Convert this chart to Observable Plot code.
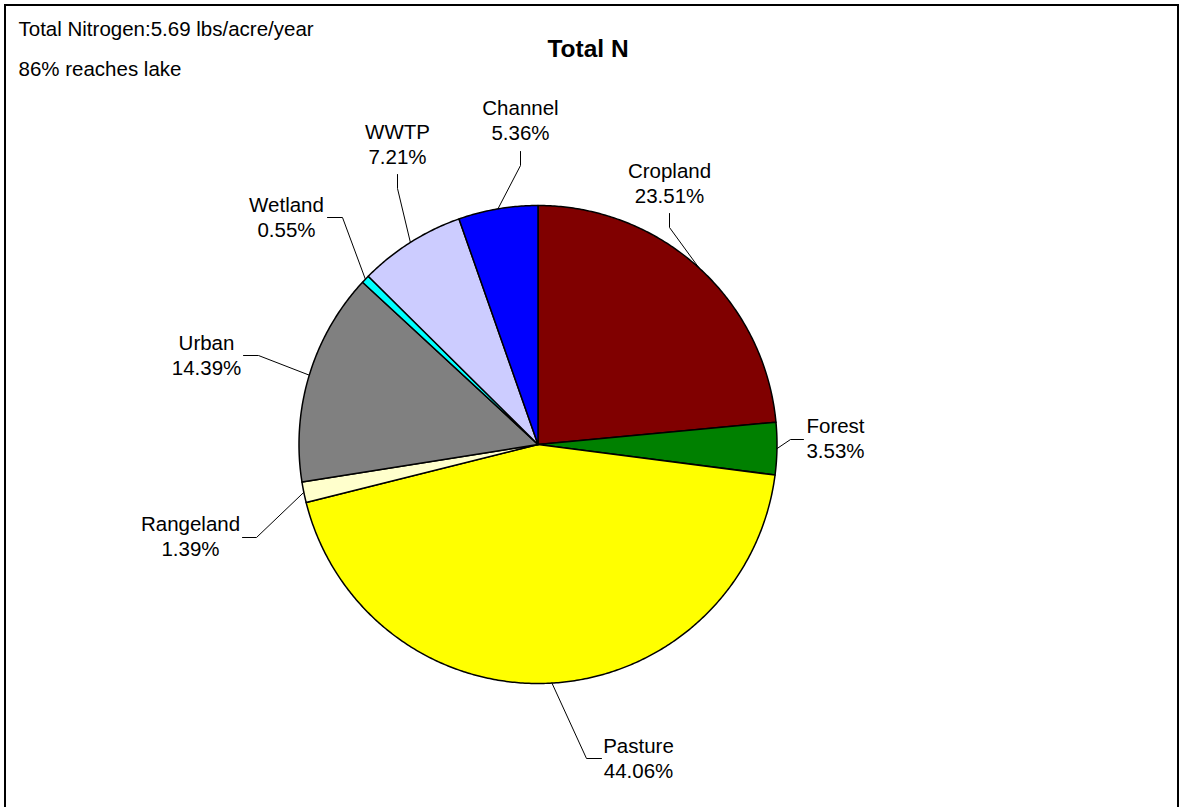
<!DOCTYPE html>
<html>
<head>
<meta charset="utf-8">
<script src="https://cdn.jsdelivr.net/npm/d3@7"></script>
<script src="https://cdn.jsdelivr.net/npm/@observablehq/plot@0.6"></script>
<style>
  html, body { margin: 0; padding: 0; background: #fff; overflow: hidden; }
  #wrap { position: relative; width: 1183px; height: 807px; font-family: "Liberation Sans", Arial, sans-serif; }
  #frame { position: absolute; left: 4px; top: 4px; width: 1171px; height: 830px; border: 2px solid #000; pointer-events: none; }
  #chart { position: absolute; left: 0; top: 0; }
</style>
</head>
<body>
<div id="wrap">
  <div id="chart"></div>
  <div id="frame"></div>
</div>
<script>
// ---- data ----
const categories = ["Cropland", "Forest", "Pasture", "Rangeland", "Urban", "Wetland", "WWTP", "Channel"];
const shares = [23.51, 3.53, 44.06, 1.39, 14.39, 0.55, 7.21, 5.36];
const sliceColors = ["#800000", "#008000", "#ffff00", "#ffffcc", "#808080", "#00ffff", "#ccccff", "#0000ff"];
const chartTitle = "Total N";
const notes = ["Total Nitrogen:5.69 lbs/acre/year", "86% reaches lake"];

// ---- layout (pixels) ----
const W = 1183, H = 807;
const CX = 537.5, CY = 444, R = 239;
// label centre x, baseline of last line, leader start, leader elbow
const labelLayout = [
  {lx: 669, lb: 202, sx: 669, sy: 213, ex: 669, ey: 227},
  {lx: 835, lb: 457, sx: 803, sy: 439, ex: 790, ey: 439},
  {lx: 638, lb: 777, sx: 601, sy: 758, ex: 586, ey: 758},
  {lx: 190, lb: 555, sx: 242, sy: 537, ex: 256, ey: 537},
  {lx: 206, lb: 374, sx: 243, sy: 355, ex: 258, ey: 355},
  {lx: 286, lb: 236, sx: 327, sy: 217, ex: 342, ey: 217},
  {lx: 397, lb: 163, sx: 397, sy: 174, ex: 397, ey: 188},
  {lx: 520, lb: 139, sx: 520, sy: 151, ex: 520, ey: 165}
];
const px = v => (v - CX) / R;
const py = v => (CY - v) / R;

// ---- slices ----
const arcs = d3.pie().sort(null).value(d => d)(shares);
const slicePts = [];
arcs.forEach((a, i) => {
  const name = categories[i];
  slicePts.push({name, x: 0, y: 0});
  const n = Math.max(2, Math.ceil((a.endAngle - a.startAngle) / (Math.PI / 360)));
  for (let k = 0; k <= n; k++) {
    const t = a.startAngle + (a.endAngle - a.startAngle) * k / n;
    slicePts.push({name, x: Math.sin(t), y: Math.cos(t)});
  }
  slicePts.push({name, x: 0, y: 0});
});

// ---- labels and leaders ----
const labels = arcs.map((a, i) => ({
  name: categories[i],
  text: categories[i] + "\n" + shares[i].toFixed(2) + "%",
  x: px(labelLayout[i].lx),
  y: py(labelLayout[i].lb)
}));
const leaders = [];
arcs.forEach((a, i) => {
  const L = labelLayout[i];
  const m = (a.startAngle + a.endAngle) / 2;
  leaders.push({name: categories[i], x: px(L.sx), y: py(L.sy)});
  leaders.push({name: categories[i], x: px(L.ex), y: py(L.ey)});
  leaders.push({name: categories[i], x: Math.sin(m), y: Math.cos(m)});
});

const font = "'Liberation Sans', Arial, sans-serif";

const chart = Plot.plot({
  width: W,
  height: H,
  margin: 0,
  style: {fontFamily: font, background: "transparent", overflow: "visible"},
  x: {domain: [px(0), px(W)], axis: null},
  y: {domain: [py(H), py(0)], axis: null},
  color: {domain: categories, range: sliceColors, legend: false},
  marks: [
    Plot.line(slicePts, {x: "x", y: "y", z: "name", fill: "name", stroke: "#000", strokeWidth: 1.5, strokeLinejoin: "round", curve: "linear"}),
    Plot.line(leaders, {x: "x", y: "y", z: "name", stroke: "#000", strokeWidth: 1, curve: "linear"}),
    Plot.text(labels, {x: "x", y: "y", text: "text", fontSize: 20.5, lineHeight: 1.22, lineAnchor: "bottom", textAnchor: "middle", fill: "#000"}),
    Plot.text([chartTitle], {frameAnchor: "top-left", dx: 587.5, dy: 56, text: d => d, fontSize: 24.5, fontWeight: "bold", lineAnchor: "bottom", textAnchor: "middle", fill: "#000"}),
    Plot.text([notes[0]], {frameAnchor: "top-left", dx: 18, dy: 35, text: d => d, fontSize: 20.5, lineAnchor: "bottom", textAnchor: "start", fill: "#000"}),
    Plot.text([notes[1]], {frameAnchor: "top-left", dx: 18, dy: 75, text: d => d, fontSize: 20.5, lineAnchor: "bottom", textAnchor: "start", fill: "#000"})
  ]
});
document.getElementById("chart").appendChild(chart);
</script>
</body>
</html>
